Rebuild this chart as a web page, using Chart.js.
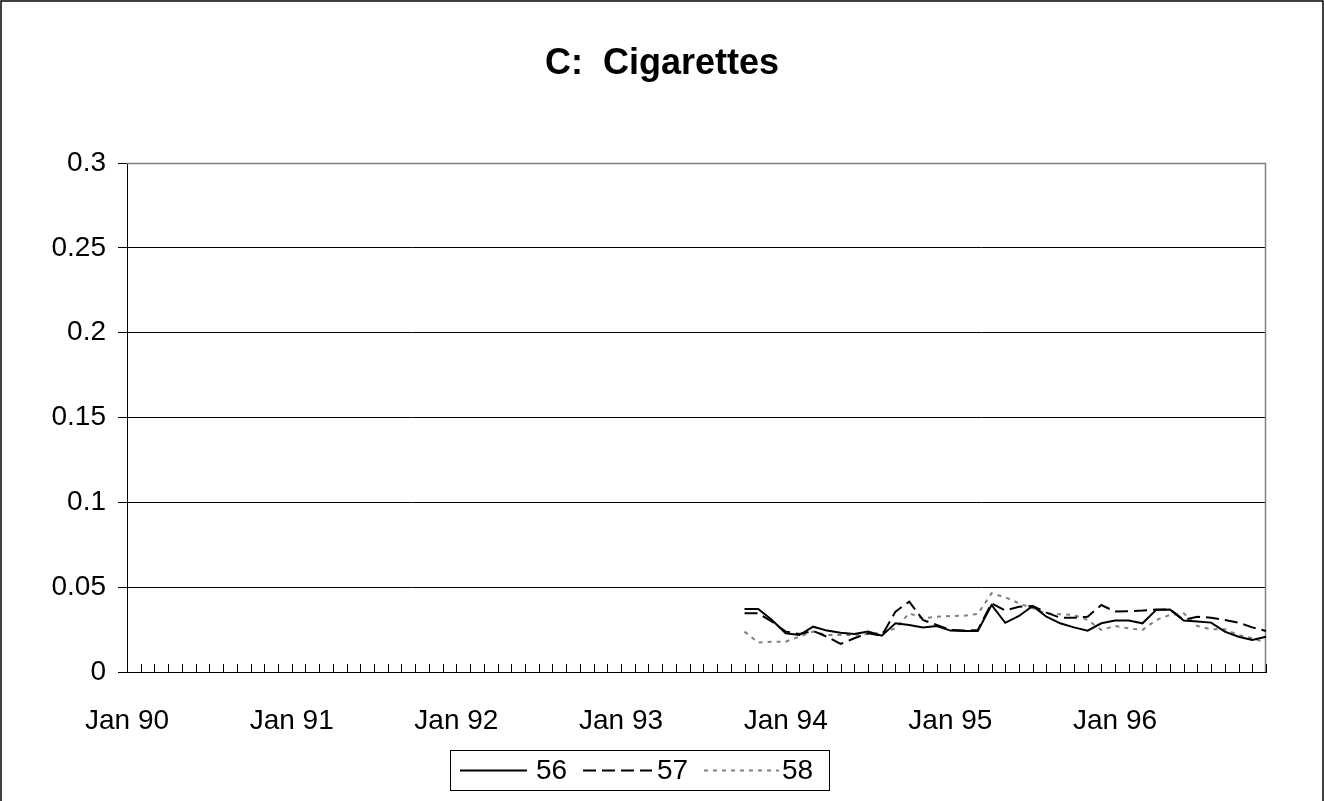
<!DOCTYPE html>
<html>
<head>
<meta charset="utf-8">
<title>C: Cigarettes</title>
<script src="https://cdn.jsdelivr.net/npm/chart.js@4.4.0/dist/chart.umd.min.js"></script>
<style>
  html, body { margin: 0; padding: 0; background: #ffffff; }
  canvas { display: block; }
</style>
</head>
<body>
<canvas id="chart" width="1324" height="801"></canvas>
<script>
// Monthly categories, Jan 1990 through Dec 1996
const years = ['90', '91', '92', '93', '94', '95', '96'];
const months = ['Jan', 'Feb', 'Mar', 'Apr', 'May', 'Jun', 'Jul', 'Aug', 'Sep', 'Oct', 'Nov', 'Dec'];
const categories = [];
years.forEach(y => months.forEach(m => categories.push(m + ' ' + y)));

// Every series begins in this month
const seriesStart = 'Oct 93';

// Series values, Oct 93 .. Dec 96
const s56 = [0.0371, 0.0371, 0.0307, 0.0228, 0.0218, 0.0267, 0.0244, 0.0232, 0.0224, 0.0238,
             0.0214, 0.0287, 0.0277, 0.0263, 0.0271, 0.0244, 0.0242, 0.0242, 0.0395, 0.0290,
             0.0330, 0.0389, 0.0326, 0.0287, 0.0263, 0.0244, 0.0287, 0.0303, 0.0303, 0.0287,
             0.0366, 0.0369, 0.0303, 0.0297, 0.0291, 0.0238, 0.0208, 0.0189, 0.0208];
const s57 = [0.0346, 0.0346, 0.0297, 0.0238, 0.0224, 0.0242, 0.0208, 0.0165, 0.0199, 0.0228,
             0.0214, 0.0356, 0.0415, 0.0307, 0.0277, 0.0248, 0.0244, 0.0248, 0.0405, 0.0362,
             0.0385, 0.0389, 0.0350, 0.0320, 0.0320, 0.0326, 0.0395, 0.0356, 0.0358, 0.0362,
             0.0368, 0.0369, 0.0307, 0.0326, 0.0320, 0.0307, 0.0291, 0.0263, 0.0242];
const s58 = [0.0238, 0.0173, 0.0179, 0.0179, 0.0208, 0.0238, 0.0218, 0.0218, 0.0218, 0.0224,
             0.0232, 0.0257, 0.0346, 0.0316, 0.0326, 0.0330, 0.0332, 0.0342, 0.0464, 0.0440,
             0.0405, 0.0375, 0.0346, 0.0340, 0.0336, 0.0307, 0.0248, 0.0271, 0.0257, 0.0248,
             0.0307, 0.0336, 0.0346, 0.0271, 0.0252, 0.0252, 0.0218, 0.0199, 0.0173];

const seriesNames = ['56', '57', '58'];
const yMin = 0, yMax = 0.3, yStep = 0.05;
const labelEvery = 12;
const chartTitle = 'C:  Cigarettes';

const FONT = '"Liberation Sans", Arial, Helvetica, sans-serif';
const TEXT_SIZE = 28;

const startIndex = categories.indexOf(seriesStart);
const alignToMonths = arr => categories.map((_, i) => (i < startIndex ? null : arr[i - startIndex]));

const lineStyles = [
  { color: '#000000', dash: [] },
  { color: '#000000', dash: [13, 6] },
  { color: '#808080', dash: [4, 5] }
];

// Outer frame, plot border (top/right), inward month ticks, title and boxed legend
const decorations = {
  id: 'decorations',
  beforeDraw(chart) {
    const ctx = chart.ctx;
    ctx.save();
    ctx.fillStyle = '#ffffff';
    ctx.fillRect(0, 0, chart.width, chart.height);
    ctx.restore();
  },
  beforeDatasetsDraw(chart) {
    const ctx = chart.ctx;
    const a = chart.chartArea;
    const xs = chart.scales.x;
    ctx.save();
    // plot area border on the top and right sides
    ctx.strokeStyle = '#808080';
    ctx.lineWidth = 1.5;
    ctx.beginPath();
    ctx.moveTo(a.left, a.top + 0.5);
    ctx.lineTo(a.right - 0.5, a.top + 0.5);
    ctx.lineTo(a.right - 0.5, a.bottom);
    ctx.stroke();
    // month tick marks pointing into the plot
    ctx.strokeStyle = '#000000';
    ctx.lineWidth = 1;
    ctx.beginPath();
    for (let i = 1; i < xs.ticks.length; i++) {
      const x = Math.round(xs.getPixelForTick(i)) + 0.5;
      ctx.moveTo(x, a.bottom);
      ctx.lineTo(x, a.bottom - 8);
    }
    ctx.stroke();
    ctx.restore();
  },
  afterDraw(chart) {
    const ctx = chart.ctx;
    ctx.save();
    // outer frame
    ctx.strokeStyle = '#000000';
    ctx.lineWidth = 1.5;
    ctx.strokeRect(1, 1, chart.width - 2, chart.height + 20);

    // title
    ctx.fillStyle = '#000000';
    ctx.font = 'bold 36px ' + FONT;
    ctx.textAlign = 'center';
    ctx.textBaseline = 'middle';
    ctx.fillText(chartTitle, chart.width / 2, 64);

    // legend
    const box = { x: 450.5, y: 750.5, w: 379, h: 40 };
    ctx.lineWidth = 1;
    ctx.strokeStyle = '#000000';
    ctx.strokeRect(box.x, box.y, box.w, box.h);
    const cy = box.y + box.h / 2;
    const items = [
      { x0: 460, x1: 527, tx: 536 },
      { x0: 583, x1: 652, tx: 657 },
      { x0: 704, x1: 779, tx: 782 }
    ];
    ctx.font = TEXT_SIZE + 'px ' + FONT;
    ctx.textAlign = 'left';
    ctx.textBaseline = 'middle';
    items.forEach((it, i) => {
      const st = lineStyles[i];
      ctx.strokeStyle = st.color;
      ctx.lineWidth = 2;
      ctx.setLineDash(st.dash);
      ctx.beginPath();
      ctx.moveTo(it.x0, cy);
      ctx.lineTo(it.x1, cy);
      ctx.stroke();
      ctx.setLineDash([]);
      ctx.fillStyle = '#000000';
      ctx.fillText(seriesNames[i], it.tx, cy + 1);
    });
    ctx.restore();
  }
};

const datasets = [s56, s57, s58].map((arr, i) => ({
  label: seriesNames[i],
  data: alignToMonths(arr),
  borderColor: lineStyles[i].color,
  borderDash: lineStyles[i].dash,
  borderWidth: 2,
  pointRadius: 0,
  pointHoverRadius: 0,
  tension: 0,
  fill: false,
  spanGaps: false
}));

new Chart(document.getElementById('chart'), {
  type: 'line',
  data: { labels: categories, datasets },
  plugins: [decorations],
  options: {
    responsive: false,
    animation: false,
    devicePixelRatio: 1,
    events: [],
    layout: { padding: { left: 10, right: 58, top: 163, bottom: 69 } },
    plugins: {
      legend: { display: false },
      title: { display: false },
      tooltip: { enabled: false }
    },
    scales: {
      x: {
        type: 'category',
        offset: false,
        grid: { display: false },
        border: { display: true, color: '#000000', width: 1 },
        ticks: {
          autoSkip: false,
          maxRotation: 0,
          minRotation: 0,
          padding: 24,
          color: '#000000',
          font: { family: FONT, size: TEXT_SIZE },
          callback: (v, i) => (i % labelEvery === 0 ? categories[i] : '')
        },
        afterFit: s => { s.height = 60; }
      },
      y: {
        min: yMin,
        max: yMax,
        grid: { color: '#000000', lineWidth: 1, tickLength: 9, drawTicks: true },
        border: { display: true, color: '#000000', width: 1 },
        ticks: {
          stepSize: yStep,
          padding: 12,
          color: '#000000',
          font: { family: FONT, size: TEXT_SIZE },
          callback: v => String(+Number(v).toFixed(2))
        },
        afterFit: s => { s.width = 117; }
      }
    }
  }
});
</script>
</body>
</html>
